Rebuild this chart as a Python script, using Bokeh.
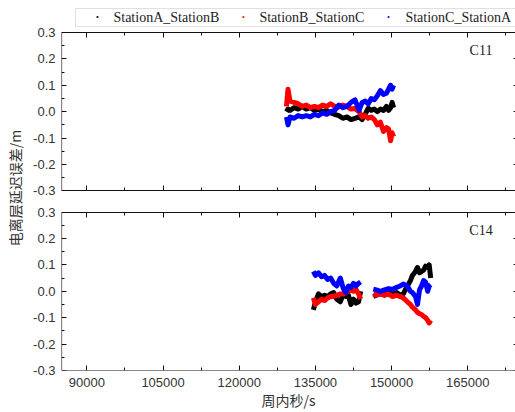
from bokeh.plotting import figure
from bokeh.models import (Range1d, LinearAxis, FixedTicker, PrintfTickFormatter,
                          CustomJSTickFormatter, Label, BoxAnnotation)
from bokeh.embed import file_html
from bokeh.resources import INLINE

# ---------------- data ----------------
series_names = ["StationA_StationB", "StationB_StationC", "StationC_StationA"]
series_colors = ["#000000", "#ff0000", "#0000ff"]

# C11 (seconds of week, metres)
c11_t = [129300, 129600, 130000, 130800, 131600, 132400, 133200, 134000, 134800,
         135600, 136400, 137200, 138000, 138800, 139600, 140400, 141200, 142000,
         142800, 143600, 144200, 144800, 145400, 146000, 146600, 147200, 147800,
         148400, 149000, 149400, 149800, 150100, 150400]
c11_ab = [0.0, 0.01, 0.005, 0.015, 0.01, 0.02, 0.01, 0.015, 0.005, 0.01, 0.0, 0.005,
          -0.005, -0.01, -0.015, -0.025, -0.02, -0.03, -0.025, -0.02, -0.03, -0.01,
          0.013, 0.005, 0.01, 0.0, 0.01, 0.005, 0.02, 0.005, 0.015, 0.035, 0.015]
c11_bc = [0.02, 0.085, 0.04, 0.035, 0.03, 0.02, 0.025, 0.015, 0.02, 0.015, 0.025, 0.02,
          0.03, 0.02, 0.018, 0.025, 0.02, 0.01, 0.012, 0.0, -0.02, -0.015, -0.025,
          -0.02, -0.03, -0.05, -0.04, -0.075, -0.06, -0.065, -0.11, -0.08, -0.095]
c11_ca = [-0.02, -0.05, -0.02, -0.025, -0.015, -0.02, -0.015, -0.02, -0.01, -0.015,
          -0.005, -0.01, 0.0, 0.005, 0.025, 0.015, 0.02, 0.035, 0.045, 0.005, 0.035,
          0.04, 0.03, 0.05, 0.045, 0.06, 0.08, 0.065, 0.07, 0.085, 0.1, 0.085, 0.1]

# C14, two arcs
c14_t1 = [134600, 135000, 135600, 136200, 136800, 137400, 138000, 138600, 139200,
          139900, 140500, 141000, 141500, 142000, 142500, 143000, 143500, 143900]
c14_ab1 = [-0.07, -0.04, -0.01, -0.02, -0.015, -0.02, -0.01, -0.005, -0.03, -0.04,
           -0.01, -0.02, -0.015, -0.05, -0.03, -0.045, -0.04, 0.0]
c14_bc1 = [-0.025, -0.05, -0.04, -0.03, -0.035, -0.025, -0.02, -0.02, -0.015, -0.01,
           -0.01, -0.005, 0.0, 0.005, 0.0, 0.007, -0.01, -0.03]
c14_ca1 = [0.075, 0.06, 0.07, 0.055, 0.06, 0.045, 0.05, 0.03, 0.02, 0.05, 0.01,
           -0.005, 0.02, 0.015, 0.03, 0.02, 0.03, 0.035]

c14_t2 = [146400, 147000, 147800, 148600, 149400, 150200, 151000, 151700, 152300,
          153100, 153700, 154100, 154700, 155100, 155500, 155900, 156300, 156700,
          157100, 157400, 157700]
c14_ab2 = [-0.02, -0.015, -0.01, -0.015, -0.005, -0.01, -0.005, -0.015, -0.01, 0.02,
           0.04, 0.06, 0.075, 0.09, 0.07, 0.075, 0.08, 0.095, 0.09, 0.1, 0.05]
c14_bc2 = [-0.01, -0.015, -0.01, -0.015, -0.01, -0.02, -0.015, -0.02, -0.025, -0.04,
           -0.05, -0.06, -0.07, -0.08, -0.085, -0.088, -0.095, -0.1, -0.11, -0.12, -0.11]
c14_ca2 = [0.008, 0.005, 0.0, 0.005, 0.01, 0.007, 0.015, 0.02, 0.027, 0.02, 0.0,
           -0.005, -0.02, -0.05, 0.005, 0.02, 0.04, 0.035, 0.0, 0.02, 0.025]

y_ticks = [-0.3, -0.2, -0.1, 0.0, 0.1, 0.2, 0.3]
y_minor = [-0.25, -0.15, -0.05, 0.05, 0.15, 0.25]
x_ticks = [90000, 105000, 120000, 135000, 150000, 165000]
x_minor = [97500, 112500, 127500, 142500, 157500, 172500]
panel_names = ["C11", "C14"]
x_title = "周内秒/s"
y_title = "电离层延迟误差/m"

# ---------------- layout constants ----------------
X0, X1 = 85000, 174400
YLO, YHI = -0.3, 0.3
OFF = 0.68      # vertical offset of the upper panel
HEAD = 0.102    # room above the upper panel (for the legend), in y units
YTOP = YHI + OFF + HEAD

# legend box / entries (positions in the upper panel's coordinates)
LEG_LEFT, LEG_BOTTOM, LEG_TOP, LEG_MID = 87756, 0.3227, 0.3906, 0.3566
leg_dot_x = [92087, 120827, 149370]
leg_text_x = [95236, 123976, 152716]

p = figure(width=515, height=412, output_backend="svg", toolbar_location=None,
           x_range=Range1d(X0, X1), y_range=Range1d(YLO, YTOP),
           x_axis_location=None, y_axis_location=None,
           min_border_left=61, min_border_right=0, min_border_top=5,
           min_border_bottom=41)
p.extra_y_ranges = {"top": Range1d(YLO - OFF, YHI + HEAD)}
p.outline_line_color = None
p.grid.visible = False
p.background_fill_color = "white"
p.border_fill_color = "white"

TICK_FONT = "Liberation Sans"
TICK_SIZE = "13px"
TICK_COLOR = "#333333"
SERIF = "Liberation Serif"


def frame_axis(ax):
    ax.axis_line_color = "#111111"
    ax.axis_line_width = 1.2
    ax.major_tick_line_color = "#111111"
    ax.minor_tick_line_color = "#111111"
    ax.major_tick_in = 5
    ax.major_tick_out = 0
    ax.minor_tick_in = 3
    ax.minor_tick_out = 0
    ax.major_label_text_alpha = 0
    ax.major_label_text_font_size = "1px"


# frame edges and inward ticks of both panels
for rname in ("default", "top"):
    yt = FixedTicker(ticks=y_ticks, minor_ticks=y_minor)
    xt = FixedTicker(ticks=x_ticks, minor_ticks=x_minor)
    for loc, place in ((X0, "left"), (175000, "right")):
        ax = LinearAxis(y_range_name=rname, fixed_location=loc, bounds=(YLO, YHI),
                        ticker=yt, formatter=CustomJSTickFormatter(code="return ''"))
        frame_axis(ax)
        p.add_layout(ax, place)
    for loc, place in ((YHI, "above"), (YLO, "below")):
        ax = LinearAxis(y_range_name=rname, fixed_location=loc, ticker=xt,
                        formatter=CustomJSTickFormatter(code="return ''"))
        frame_axis(ax)
        p.add_layout(ax, place)

# labelled axes (labels only)
all_y_ticks = y_ticks + [round(t + OFF, 6) for t in y_ticks]
ylab = LinearAxis(ticker=FixedTicker(ticks=all_y_ticks, minor_ticks=[]),
                  formatter=CustomJSTickFormatter(
                      args=dict(off=OFF),
                      code="const v = tick > 0.34 ? tick - off : tick; "
                           "return (Math.abs(v) < 1e-9 ? 0 : v).toFixed(1);"),
                  axis_label=y_title)
xlab = LinearAxis(ticker=FixedTicker(ticks=x_ticks, minor_ticks=[]),
                  formatter=PrintfTickFormatter(format="%d"),
                  axis_label=x_title)
for ax, st, ast in ((ylab, 6, 5), (xlab, 7, 0)):
    ax.axis_line_color = None
    ax.major_tick_in = 0
    ax.major_tick_out = 0
    ax.minor_tick_in = 0
    ax.minor_tick_out = 0
    ax.major_label_standoff = st
    ax.major_label_text_font = TICK_FONT
    ax.major_label_text_font_size = TICK_SIZE
    ax.major_label_text_color = TICK_COLOR
    ax.axis_label_standoff = ast
    ax.axis_label_text_font = "Noto Sans CJK SC"
    ax.axis_label_text_font_style = "normal"
    ax.axis_label_text_color = "#333333"
ylab.axis_label_text_font_size = "14px"
xlab.axis_label_text_font_size = "14px"
p.add_layout(ylab, "left")
p.add_layout(xlab, "below")

# ---------------- data lines ----------------
c11_vals = [c11_ab, c11_bc, c11_ca]
c14_vals1 = [c14_ab1, c14_bc1, c14_ca1]
c14_vals2 = [c14_ab2, c14_bc2, c14_ca2]
for vals, col in zip(c11_vals, series_colors):
    p.line(c11_t, vals, y_range_name="top", line_color=col, line_width=5,
           line_join="round")
for v1, v2, col in zip(c14_vals1, c14_vals2, series_colors):
    p.multi_line(xs=[c14_t1, c14_t2], ys=[v1, v2], line_color=col, line_width=5,
                 line_join="round")

# ---------------- legend (drawn by hand) ----------------
p.add_layout(BoxAnnotation(left=LEG_LEFT, right=X1 + 5000, bottom=LEG_BOTTOM,
                           top=LEG_TOP, y_range_name="top",
                           fill_color="white", fill_alpha=1.0,
                           line_color="#999999", line_width=1))
for name, col, dx, tx in zip(series_names, series_colors, leg_dot_x, leg_text_x):
    p.add_layout(Label(x=dx, y=LEG_MID, y_range_name="top", text="\u2022",
                       text_align="center", text_baseline="middle",
                       text_font=SERIF, text_font_size="8px", text_color=col))
    p.add_layout(Label(x=tx, y=LEG_MID, y_range_name="top", text=name,
                       text_align="left", text_baseline="middle",
                       text_font=SERIF, text_font_size="14px",
                       text_color="#222222"))

# panel names
p.add_layout(Label(x=167600, y=0.23, y_range_name="top", text=panel_names[0],
                   text_align="center", text_baseline="middle",
                   text_font=SERIF, text_font_size="14px",
                   text_color="#222222"))
p.add_layout(Label(x=167600, y=0.23, text=panel_names[1],
                   text_align="center", text_baseline="middle",
                   text_font=SERIF, text_font_size="14px",
                   text_color="#222222"))

open("out.html", "w").write(file_html(p, INLINE))
